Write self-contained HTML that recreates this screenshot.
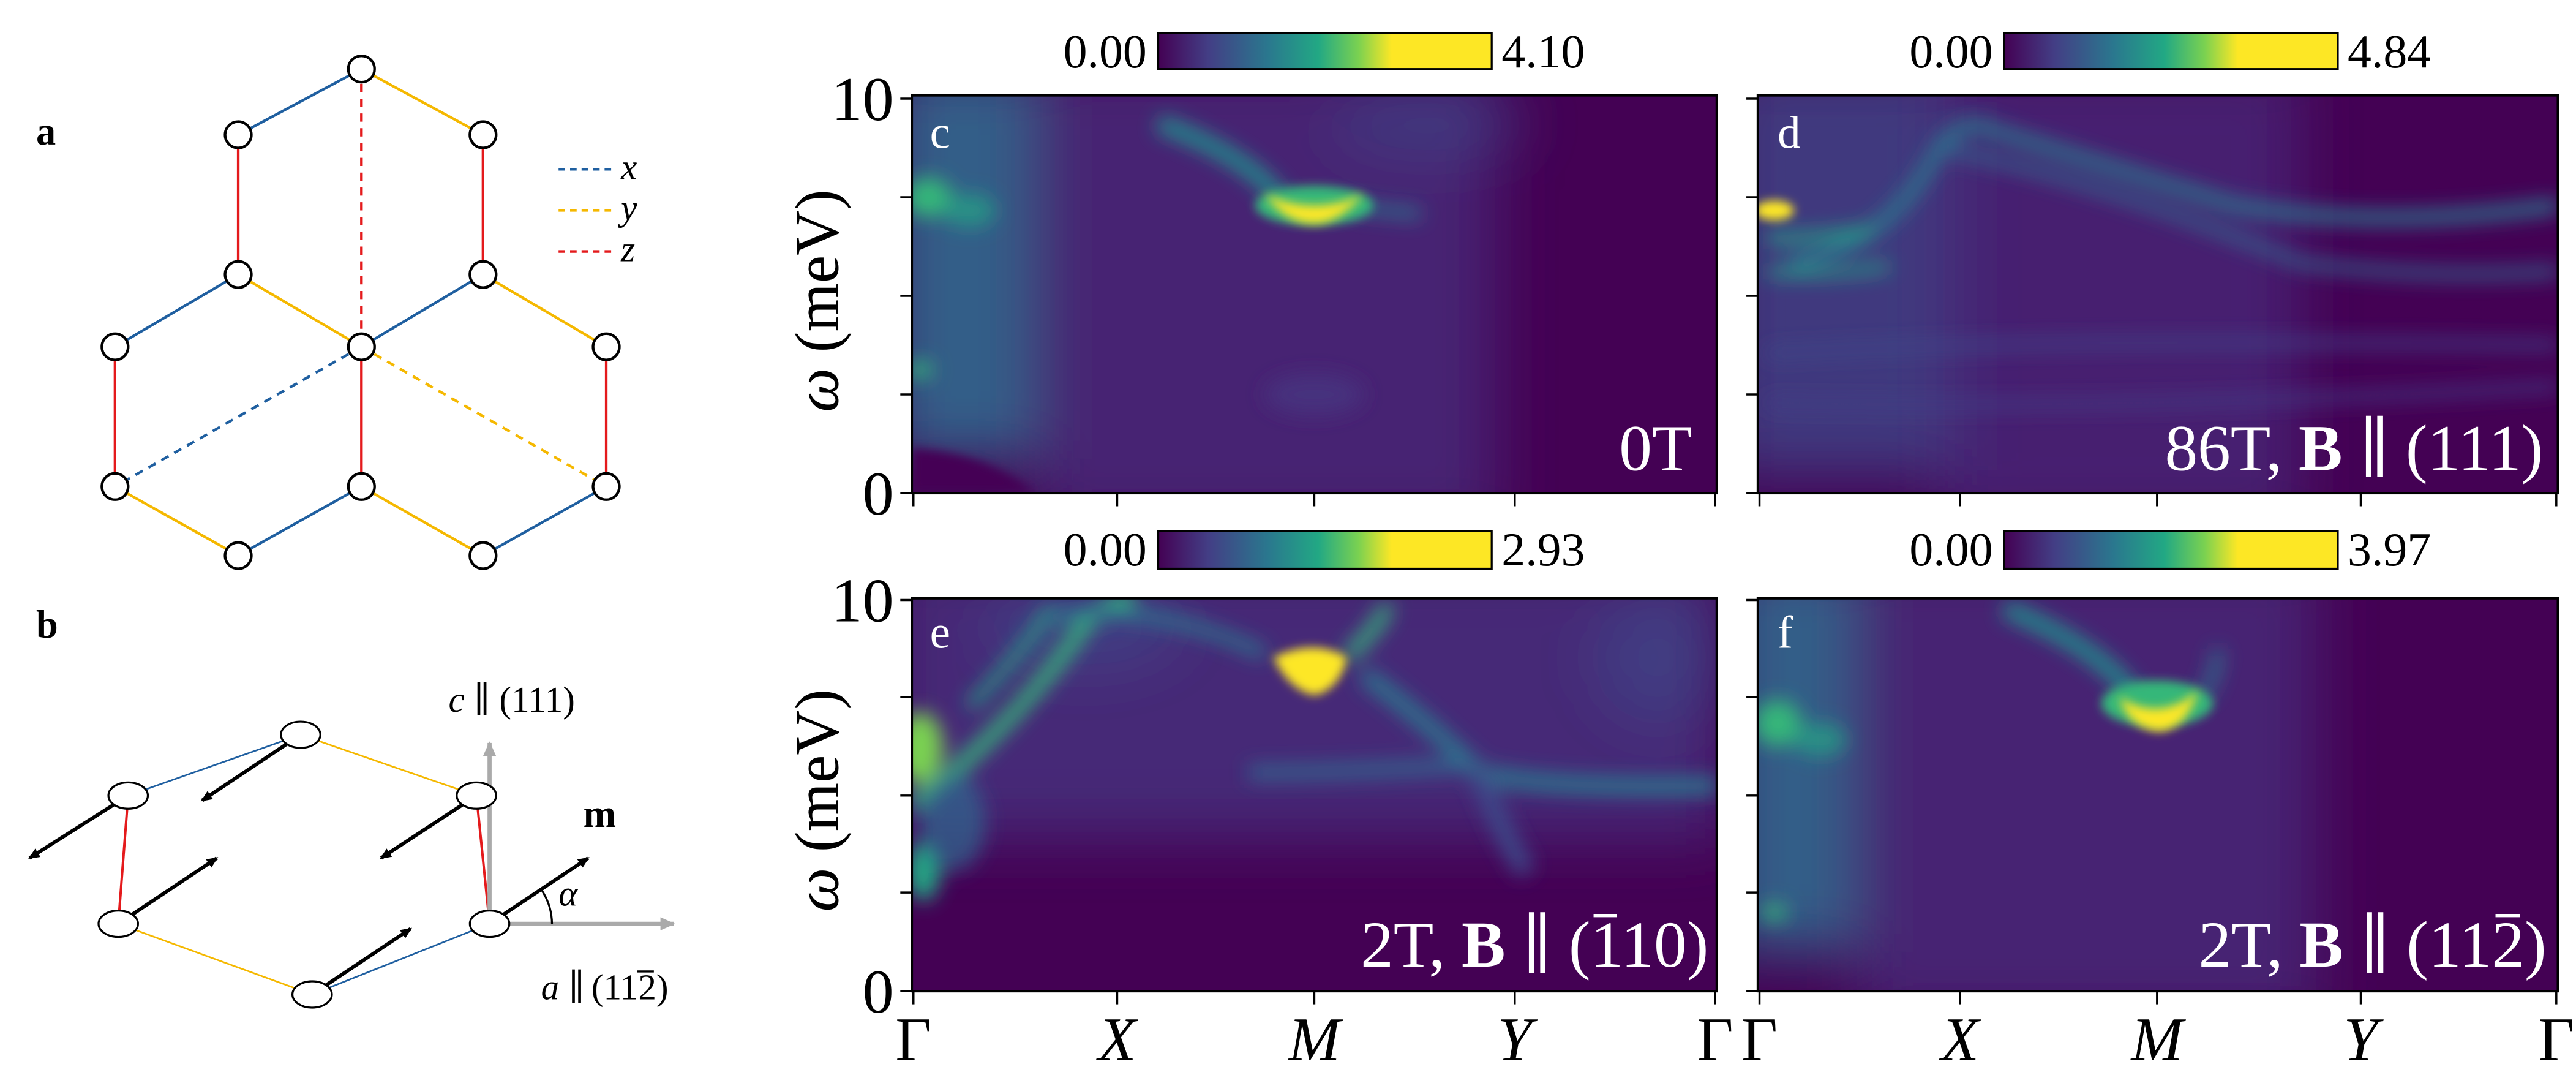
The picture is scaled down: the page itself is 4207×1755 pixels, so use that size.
<!DOCTYPE html>
<html><head><meta charset="utf-8"><style>
html,body{margin:0;padding:0;background:#fff;}
svg{display:block;}
text{font-family:"Liberation Serif","DejaVu Serif",serif;}
</style></head><body>
<svg width="4207" height="1755" viewBox="0 0 1568 654" preserveAspectRatio="none" xmlns="http://www.w3.org/2000/svg">
<defs>
<linearGradient id="vir" x1="0" x2="1" y1="0" y2="0">
<stop offset="0" stop-color="#440154"/><stop offset="0.15" stop-color="#433e85"/><stop offset="0.33" stop-color="#2a788e"/><stop offset="0.48" stop-color="#22a884"/><stop offset="0.6" stop-color="#7ad151"/><stop offset="0.7" stop-color="#fde725"/><stop offset="1" stop-color="#fde725"/>
</linearGradient>
<filter id="b6" x="-50%" y="-50%" width="200%" height="200%"><feGaussianBlur stdDeviation="6"/></filter>
<filter id="b3" x="-50%" y="-50%" width="200%" height="200%"><feGaussianBlur stdDeviation="3"/></filter>
<filter id="b12" x="-50%" y="-50%" width="200%" height="200%"><feGaussianBlur stdDeviation="18"/></filter>
<clipPath id="cc"><rect x="555" y="58" width="490" height="242"/></clipPath>
<clipPath id="cd"><rect x="1070" y="58" width="487" height="242"/></clipPath>
<clipPath id="ce"><rect x="555" y="364" width="490" height="239"/></clipPath>
<clipPath id="cf"><rect x="1070" y="364" width="487" height="239"/></clipPath>
<marker id="ar" markerWidth="8" markerHeight="8" refX="6" refY="3" orient="auto" markerUnits="userSpaceOnUse"><path d="M0,0 L7,3 L0,6 z" fill="#000"/></marker>
<marker id="ag" markerWidth="10" markerHeight="10" refX="8" refY="4" orient="auto" markerUnits="userSpaceOnUse"><path d="M0,0 L9,4 L0,8 z" fill="#aaa"/></marker>
</defs>

<!-- Panel a -->
<text x="22" y="88" font-size="24" font-weight="bold">a</text>
<g stroke-width="1.6" fill="none">
<line x1="220" y1="42" x2="145" y2="82" stroke="#1f5fa0"/>
<line x1="220" y1="42" x2="294" y2="82" stroke="#f5b800"/>
<line x1="220" y1="42" x2="220" y2="211" stroke="#e41a1c" stroke-dasharray="5,4"/>
<line x1="145" y1="82" x2="145" y2="167" stroke="#e41a1c"/>
<line x1="294" y1="82" x2="294" y2="167" stroke="#e41a1c"/>
<line x1="145" y1="167" x2="70" y2="211" stroke="#1f5fa0"/>
<line x1="145" y1="167" x2="220" y2="211" stroke="#f5b800"/>
<line x1="294" y1="167" x2="220" y2="211" stroke="#1f5fa0"/>
<line x1="294" y1="167" x2="369" y2="211" stroke="#f5b800"/>
<line x1="70" y1="211" x2="70" y2="296" stroke="#e41a1c"/>
<line x1="220" y1="211" x2="220" y2="296" stroke="#e41a1c"/>
<line x1="369" y1="211" x2="369" y2="296" stroke="#e41a1c"/>
<line x1="220" y1="211" x2="70" y2="296" stroke="#1f5fa0" stroke-dasharray="5,4"/>
<line x1="220" y1="211" x2="369" y2="296" stroke="#f5b800" stroke-dasharray="5,4"/>
<line x1="70" y1="296" x2="145" y2="338" stroke="#f5b800"/>
<line x1="220" y1="296" x2="145" y2="338" stroke="#1f5fa0"/>
<line x1="220" y1="296" x2="294" y2="338" stroke="#f5b800"/>
<line x1="369" y1="296" x2="294" y2="338" stroke="#1f5fa0"/>
<line x1="340" y1="103" x2="372" y2="103" stroke="#1f5fa0" stroke-dasharray="4,3"/>
<line x1="340" y1="128" x2="372" y2="128" stroke="#f5b800" stroke-dasharray="4,3"/>
<line x1="340" y1="153" x2="372" y2="153" stroke="#e41a1c" stroke-dasharray="4,3"/>
</g>
<text x="378" y="109" font-size="22" font-style="italic">x</text>
<text x="378" y="134" font-size="22" font-style="italic">y</text>
<text x="378" y="159" font-size="22" font-style="italic">z</text>
<g fill="#fff" stroke="#000" stroke-width="1.6">
<circle cx="220" cy="42" r="8"/><circle cx="145" cy="82" r="8"/><circle cx="294" cy="82" r="8"/>
<circle cx="145" cy="167" r="8"/><circle cx="294" cy="167" r="8"/><circle cx="220" cy="211" r="8"/>
<circle cx="70" cy="211" r="8"/><circle cx="369" cy="211" r="8"/><circle cx="70" cy="296" r="8"/>
<circle cx="220" cy="296" r="8"/><circle cx="369" cy="296" r="8"/><circle cx="145" cy="338" r="8"/><circle cx="294" cy="338" r="8"/>
</g>

<!-- Panel b -->
<text x="22" y="388" font-size="24" font-weight="bold">b</text>
<g stroke-width="1" fill="none">
<line x1="183" y1="447" x2="78" y2="484" stroke="#1f5fa0"/>
<line x1="183" y1="447" x2="290" y2="484" stroke="#f5b800"/>
<line x1="78" y1="484" x2="72" y2="562" stroke="#e41a1c" stroke-width="1.5"/>
<line x1="290" y1="484" x2="298" y2="562" stroke="#e41a1c" stroke-width="1.5"/>
<line x1="72" y1="562" x2="190" y2="605" stroke="#f5b800"/>
<line x1="298" y1="562" x2="190" y2="605" stroke="#1f5fa0"/>
</g>
<g stroke="#aaa" stroke-width="2.5">
<line x1="298" y1="562" x2="298" y2="452" marker-end="url(#ag)"/>
<line x1="298" y1="562" x2="410" y2="562" marker-end="url(#ag)"/>
</g>
<path d="M336,562 A38,38 0 0 0 330,542" stroke="#000" fill="none" stroke-width="1.2"/>
<g stroke="#000" stroke-width="2.2" marker-end="url(#ar)">
<line x1="183" y1="447" x2="123" y2="487"/>
<line x1="78" y1="484" x2="18" y2="522"/>
<line x1="290" y1="484" x2="232" y2="522"/>
<line x1="72" y1="562" x2="132" y2="522"/>
<line x1="190" y1="605" x2="250" y2="565"/>
<line x1="298" y1="562" x2="358" y2="522"/>
</g>
<g fill="#fff" stroke="#000" stroke-width="1.2">
<ellipse cx="183" cy="447" rx="12" ry="8"/><ellipse cx="78" cy="484" rx="12" ry="8"/><ellipse cx="290" cy="484" rx="12" ry="8"/>
<ellipse cx="72" cy="562" rx="12" ry="8"/><ellipse cx="298" cy="562" rx="12" ry="8"/><ellipse cx="190" cy="605" rx="12" ry="8"/>
</g>
<text x="273" y="433" font-size="22"><tspan font-style="italic">c</tspan> ∥ (111)</text>
<text x="355" y="503" font-size="24" font-weight="bold">m</text>
<text x="340" y="551" font-size="22" font-style="italic">α</text>
<text x="356" y="608" font-size="22" text-anchor="end"><tspan font-style="italic">a</tspan> ∥</text>
<text x="360" y="608" font-size="22">(112)</text>
<line x1="388" y1="591" x2="398" y2="591" stroke="#000" stroke-width="1.3"/>

<!-- Heatmap c -->
<g clip-path="url(#cc)">
<rect x="555" y="58" width="490" height="242" fill="#440154"/>
<g filter="url(#b12)">
<rect x="540" y="40" width="90" height="240" fill="#31688e" opacity="0.9"/>
<rect x="630" y="40" width="280" height="280" fill="#472c7a" opacity="0.8"/>
<ellipse cx="870" cy="75" rx="60" ry="18" fill="#3e4989" opacity="0.6"/>
</g>
<g filter="url(#b6)">
<path d="M705,75 Q760,95 780,122" stroke="#21918c" stroke-width="10" fill="none"/>
<path d="M820,125 Q840,128 865,130" stroke="#2a788e" stroke-width="6" fill="none"/>
<ellipse cx="565" cy="120" rx="14" ry="12" fill="#35b779"/>
<ellipse cx="590" cy="128" rx="16" ry="10" fill="#22a884" opacity="0.7"/>
<ellipse cx="560" cy="225" rx="8" ry="5" fill="#35b779"/>
<ellipse cx="800" cy="240" rx="30" ry="12" fill="#46327e"/>
</g>
<ellipse cx="800" cy="125" rx="36" ry="12" fill="#35b779" filter="url(#b3)"/>
<path d="M770,118 Q800,132 830,118 Q815,136 800,136 Q782,136 770,118z" fill="#fde725" filter="url(#b3)"/>
<path d="M555,300 L555,273 Q600,275 630,300z" fill="#440154" filter="url(#b3)"/>
</g>
<rect x="555" y="58" width="490" height="242" fill="none" stroke="#000" stroke-width="1.5"/>
<text x="566" y="90" font-size="28" fill="#fff">c</text>
<text x="1030" y="286" font-size="40" fill="#fff" text-anchor="end">0T</text>

<!-- Heatmap d -->
<g clip-path="url(#cd)">
<rect x="1070" y="58" width="487" height="242" fill="#440154"/>
<g filter="url(#b12)">
<rect x="1050" y="40" width="150" height="250" fill="#3e4989" opacity="0.8"/>
<rect x="1180" y="40" width="220" height="280" fill="#482878" opacity="0.8"/>
</g>
<g filter="url(#b6)">
<path d="M1090,160 Q1150,150 1180,90 Q1195,70 1215,80 Q1280,100 1360,125 Q1450,140 1557,125" stroke="#2a788e" stroke-width="8" fill="none"/>
<path d="M1180,90 Q1280,110 1400,160 Q1480,170 1557,165" stroke="#31688e" stroke-width="6" fill="none"/>
<path d="M1075,145 Q1110,145 1140,140" stroke="#22a884" stroke-width="6" fill="none"/>
<path d="M1075,165 Q1110,168 1150,162" stroke="#22a884" stroke-width="5" fill="none"/>
<path d="M1075,215 Q1250,205 1557,210" stroke="#3e4989" stroke-width="5" fill="none"/>
<path d="M1075,245 Q1300,250 1557,235" stroke="#433e85" stroke-width="5" fill="none"/>
</g>
<ellipse cx="1080" cy="128" rx="12" ry="6" fill="#fde725" filter="url(#b3)"/>
</g>
<rect x="1070" y="58" width="487" height="242" fill="none" stroke="#000" stroke-width="1.5"/>
<text x="1082" y="90" font-size="28" fill="#fff">d</text>
<text x="1548" y="286" font-size="40" fill="#fff" text-anchor="end">86T, <tspan font-weight="bold">B</tspan> ∥ (111)</text>

<!-- Heatmap e -->
<g clip-path="url(#ce)">
<rect x="555" y="364" width="490" height="239" fill="#440154"/>
<g filter="url(#b12)">
<rect x="540" y="340" width="510" height="170" fill="#472c7a" opacity="0.9"/>
<ellipse cx="660" cy="380" rx="60" ry="25" fill="#3e4989" opacity="0.7"/>
<ellipse cx="1010" cy="400" rx="40" ry="40" fill="#3e4989" opacity="0.6"/>
</g>
<g filter="url(#b6)">
<path d="M555,490 Q620,440 660,380 Q670,368 690,364" stroke="#35b779" stroke-width="9" fill="none"/>
<path d="M590,430 Q620,400 640,370" stroke="#22a884" stroke-width="6" fill="none"/>
<path d="M640,375 Q700,365 770,398" stroke="#2a788e" stroke-width="7" fill="none"/>
<path d="M820,400 Q840,380 845,368" stroke="#35b779" stroke-width="8" fill="none"/>
<path d="M830,410 Q870,440 900,470 Q940,480 1045,478" stroke="#2a788e" stroke-width="10" fill="none"/>
<path d="M760,470 Q820,470 900,465" stroke="#31688e" stroke-width="8" fill="none"/>
<path d="M900,470 Q920,520 930,530" stroke="#3e4989" stroke-width="12" fill="none"/>
<ellipse cx="560" cy="455" rx="14" ry="22" fill="#7ad151"/>
<ellipse cx="562" cy="530" rx="10" ry="18" fill="#22a884"/>
<ellipse cx="580" cy="500" rx="20" ry="30" fill="#31688e" opacity="0.7"/>
</g>
<path d="M775,400 Q800,388 820,400 Q815,420 800,423 Q785,420 775,400z" fill="#fde725" filter="url(#b3)"/>
</g>
<rect x="555" y="364" width="490" height="239" fill="none" stroke="#000" stroke-width="1.5"/>
<text x="566" y="394" font-size="28" fill="#fff">e</text>
<text x="1040" y="588" font-size="40" fill="#fff" text-anchor="end">2T, <tspan font-weight="bold">B</tspan> ∥ (110)</text>
<line x1="970" y1="557" x2="984" y2="557" stroke="#fff" stroke-width="2"/>

<!-- Heatmap f -->
<g clip-path="url(#cf)">
<rect x="1070" y="364" width="487" height="239" fill="#440154"/>
<g filter="url(#b12)">
<rect x="1050" y="340" width="80" height="240" fill="#31688e" opacity="0.9"/>
<rect x="1130" y="340" width="280" height="280" fill="#472c7a" opacity="0.8"/>
</g>
<g filter="url(#b6)">
<path d="M1220,370 Q1280,395 1300,425" stroke="#21918c" stroke-width="10" fill="none"/>
<path d="M1340,425 Q1350,410 1350,395" stroke="#2a788e" stroke-width="6" fill="none"/>
<ellipse cx="1082" cy="440" rx="14" ry="14" fill="#35b779"/>
<ellipse cx="1108" cy="450" rx="16" ry="10" fill="#22a884" opacity="0.7"/>
<ellipse cx="1080" cy="555" rx="8" ry="5" fill="#35b779"/>
</g>
<ellipse cx="1313" cy="428" rx="34" ry="14" fill="#35b779" filter="url(#b3)"/>
<path d="M1290,424 Q1315,440 1338,420 Q1330,445 1313,445 Q1295,442 1290,424z" fill="#fde725" filter="url(#b3)"/>
</g>
<rect x="1070" y="364" width="487" height="239" fill="none" stroke="#000" stroke-width="1.5"/>
<text x="1082" y="394" font-size="28" fill="#fff">f</text>
<text x="1550" y="588" font-size="40" fill="#fff" text-anchor="end">2T, <tspan font-weight="bold">B</tspan> ∥ (112)</text>
<line x1="1519" y1="557" x2="1534" y2="557" stroke="#fff" stroke-width="2"/>

<!-- Colorbars -->
<g font-size="29">
<rect x="705" y="20" width="203" height="22" fill="url(#vir)" stroke="#000" stroke-width="1.2"/>
<text x="698" y="41" text-anchor="end">0.00</text><text x="914" y="41">4.10</text>
<rect x="1220" y="20" width="203" height="22" fill="url(#vir)" stroke="#000" stroke-width="1.2"/>
<text x="1213" y="41" text-anchor="end">0.00</text><text x="1429" y="41">4.84</text>
<rect x="705" y="323" width="203" height="23" fill="url(#vir)" stroke="#000" stroke-width="1.2"/>
<text x="698" y="344" text-anchor="end">0.00</text><text x="914" y="344">2.93</text>
<rect x="1220" y="323" width="203" height="23" fill="url(#vir)" stroke="#000" stroke-width="1.2"/>
<text x="1213" y="344" text-anchor="end">0.00</text><text x="1429" y="344">3.97</text>
</g>

<!-- Ticks -->
<g stroke="#000" stroke-width="1.3">
<line x1="548" y1="60" x2="555" y2="60"/><line x1="548" y1="120" x2="555" y2="120"/><line x1="548" y1="180" x2="555" y2="180"/><line x1="548" y1="240" x2="555" y2="240"/><line x1="548" y1="300" x2="555" y2="300"/>
<line x1="1063" y1="60" x2="1070" y2="60"/><line x1="1063" y1="120" x2="1070" y2="120"/><line x1="1063" y1="180" x2="1070" y2="180"/><line x1="1063" y1="240" x2="1070" y2="240"/><line x1="1063" y1="300" x2="1070" y2="300"/>
<line x1="548" y1="365" x2="555" y2="365"/><line x1="548" y1="424" x2="555" y2="424"/><line x1="548" y1="484" x2="555" y2="484"/><line x1="548" y1="543" x2="555" y2="543"/><line x1="548" y1="603" x2="555" y2="603"/>
<line x1="1063" y1="365" x2="1070" y2="365"/><line x1="1063" y1="424" x2="1070" y2="424"/><line x1="1063" y1="484" x2="1070" y2="484"/><line x1="1063" y1="543" x2="1070" y2="543"/><line x1="1063" y1="603" x2="1070" y2="603"/>
<line x1="556" y1="300" x2="556" y2="308"/><line x1="680" y1="300" x2="680" y2="308"/><line x1="800" y1="300" x2="800" y2="308"/><line x1="922" y1="300" x2="922" y2="308"/><line x1="1044" y1="300" x2="1044" y2="308"/>
<line x1="1071" y1="300" x2="1071" y2="308"/><line x1="1193" y1="300" x2="1193" y2="308"/><line x1="1313" y1="300" x2="1313" y2="308"/><line x1="1437" y1="300" x2="1437" y2="308"/><line x1="1556" y1="300" x2="1556" y2="308"/>
<line x1="556" y1="603" x2="556" y2="611"/><line x1="680" y1="603" x2="680" y2="611"/><line x1="800" y1="603" x2="800" y2="611"/><line x1="922" y1="603" x2="922" y2="611"/><line x1="1044" y1="603" x2="1044" y2="611"/>
<line x1="1071" y1="603" x2="1071" y2="611"/><line x1="1193" y1="603" x2="1193" y2="611"/><line x1="1313" y1="603" x2="1313" y2="611"/><line x1="1437" y1="603" x2="1437" y2="611"/><line x1="1556" y1="603" x2="1556" y2="611"/>
</g>
<g font-size="38" text-anchor="end">
<text x="544" y="73">10</text><text x="544" y="313">0</text>
<text x="544" y="378">10</text><text x="544" y="616">0</text>
</g>
<g font-size="38" text-anchor="middle">
<text x="556" y="645">Γ</text><text x="680" y="645" font-style="italic">X</text><text x="800" y="645" font-style="italic">M</text><text x="922" y="645" font-style="italic">Y</text><text x="1044" y="645">Γ</text>
<text x="1071" y="645">Γ</text><text x="1193" y="645" font-style="italic">X</text><text x="1313" y="645" font-style="italic">M</text><text x="1437" y="645" font-style="italic">Y</text><text x="1556" y="645">Γ</text>
</g>
<text transform="translate(510,183) rotate(-90)" font-size="38" text-anchor="middle"><tspan font-style="italic">ω</tspan> (meV)</text>
<text transform="translate(510,487) rotate(-90)" font-size="38" text-anchor="middle"><tspan font-style="italic">ω</tspan> (meV)</text>
</svg>
</body></html>
